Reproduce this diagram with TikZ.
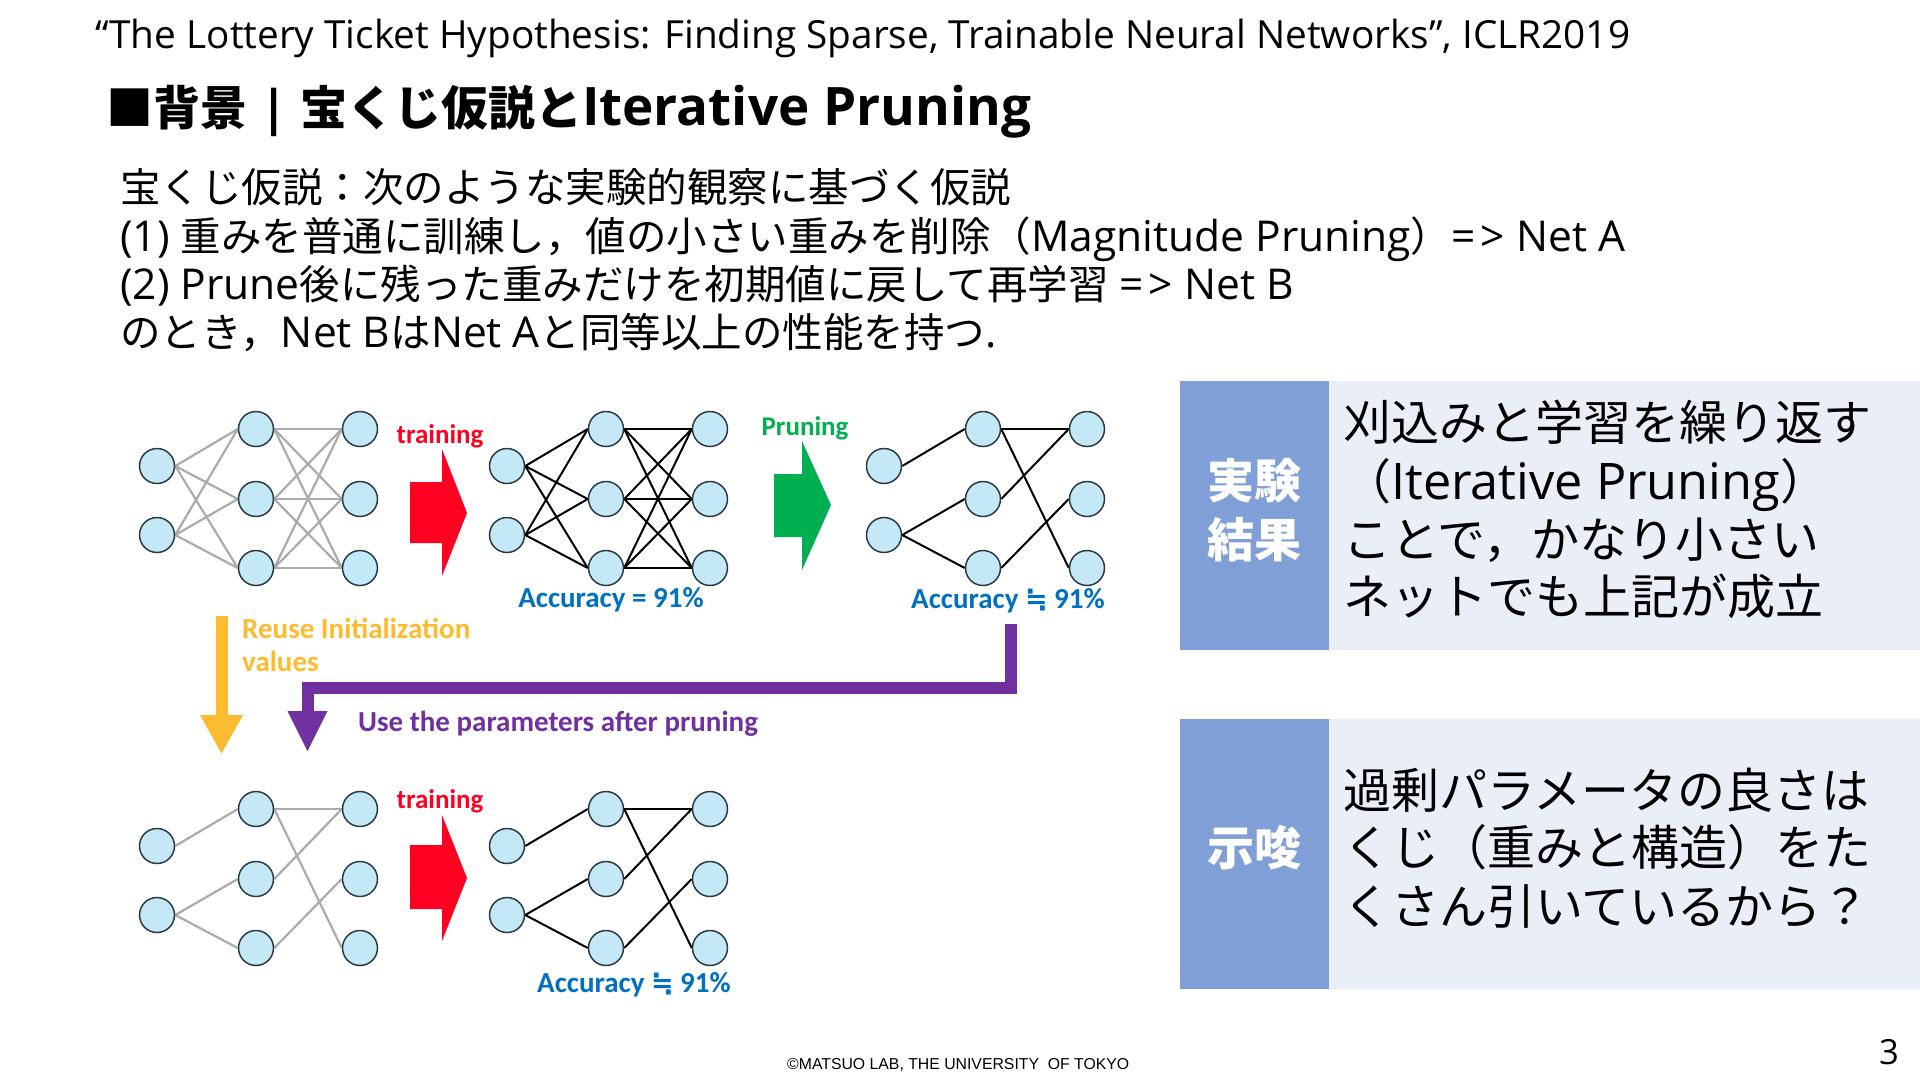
\documentclass[tikz,border=0pt]{standalone}
\usepackage{fontspec}
\setmainfont{Open Sans}[Scale=1.05]
\newfontfamily\jp{Noto Sans CJK JP}
\newfontfamily\calfont{Carlito}
\newfontfamily\footfont{Liberation Sans}
\newfontfamily\symfont{DejaVu Sans}
\newcommand\J[1]{{\jp #1}}
\definecolor{nodefill}{HTML}{C5E8F7}
\definecolor{nodeline}{HTML}{2B3A42}
\definecolor{edgegray}{HTML}{ABABAB}
\definecolor{arrred}{HTML}{FF0020}
\definecolor{arrgreen}{HTML}{00B050}
\definecolor{arryel}{HTML}{FDBB30}
\definecolor{arrpur}{HTML}{7030A0}
\definecolor{accblue}{HTML}{0070C0}
\definecolor{boxdark}{HTML}{7F9FD6}
\definecolor{boxlight}{HTML}{E9EEF7}
\pgfdeclarelayer{background}
\pgfsetlayers{background,main}
\newcommand\mknet[3]{%
  \node[nn] (#1i1) at (#2,#3+37) {};
  \node[nn] (#1i2) at (#2,#3+106) {};
  \node[nn] (#1h1) at (#2+99,#3) {};
  \node[nn] (#1h2) at (#2+99,#3+70) {};
  \node[nn] (#1h3) at (#2+99,#3+139) {};
  \node[nn] (#1o1) at (#2+203,#3) {};
  \node[nn] (#1o2) at (#2+203,#3+70) {};
  \node[nn] (#1o3) at (#2+203,#3+139) {};}
\newcommand\fulledges[2]{%
  \foreach \a in {1,2}{\foreach \b in {1,2,3}{\draw[#2] (#1i\a.east) -- (#1h\b.west);}}
  \foreach \a in {1,2,3}{\foreach \b in {1,2,3}{\draw[#2] (#1h\a.east) -- (#1o\b.west);}}}
\newcommand\sparseedges[2]{%
  \draw[#2] (#1i1.east) -- (#1h1.west);
  \draw[#2] (#1i2.east) -- (#1h2.west);
  \draw[#2] (#1i2.east) -- (#1h3.west);
  \draw[#2] (#1h1.east) -- (#1o1.west);
  \draw[#2] (#1h1.east) -- (#1o3.west);
  \draw[#2] (#1h2.east) -- (#1o1.west);
  \draw[#2] (#1h3.east) -- (#1o2.west);}
\begin{document}
\begin{tikzpicture}[x=1pt,y=-1pt,
  nn/.style={circle,draw=nodeline,fill=nodefill,line width=1.5pt,minimum size=35pt,inner sep=0pt},
  ge/.style={draw=edgegray,line width=2.2pt},
  be/.style={draw=black,line width=2pt},
  lab/.style={inner sep=0pt,font=\calfont\bfseries\fontsize{27}{30}\selectfont},
  labb/.style={inner sep=0pt,font=\calfont\bfseries\fontsize{29}{33}\selectfont},
  body/.style={inner sep=0pt,anchor=base west,font=\fontsize{40.5}{48}\selectfont},
  boxt/.style={inner sep=0pt,anchor=base west,font=\fontsize{48}{58}\selectfont},
  boxl/.style={inner sep=0pt,anchor=base,text=white,font=\jp\bfseries\fontsize{47}{58}\selectfont}]
\useasboundingbox (0,0) rectangle (1920,1080);
\begin{pgfonlayer}{background}
\fill[white] (0,0) rectangle (1920,1080);
\end{pgfonlayer}
% header
\node[inner sep=0pt,anchor=base west,font=\fontsize{36.9}{42}\selectfont] (cite) at (95,48)
  {“The Lottery Ticket Hypothesis: Finding Sparse, Trainable Neural Networks”, ICLR2019};
\node[inner sep=0pt,anchor=base west,font=\bfseries\fontsize{47}{56}\selectfont] (title) at (106,125)
  {\J{■背景} | \J{宝くじ仮説と}{\fontsize{50.5}{56}\selectfont Iterative Pruning}};
% body text
\node[body] (l1) at (120,202) {\J{宝くじ仮説：次のような実験的観察に基づく仮説}};
\node[body] (l2) at (120,251) {(1) \J{重みを普通に訓練し，値の小さい重みを削除（}Magnitude Pruning\J{）}=\kern0.12em> Net A};
\node[body] (l3) at (120,299) {(2) Prune\J{後に残った重みだけを初期値に戻して再学習} =\kern0.12em> Net B};
\node[body] (l4) at (120,347) {\J{のとき，}Net B\J{は}Net A\J{と同等以上の性能を持つ}.};
% right boxes
\fill[boxlight] (1180,381) rectangle (1920,650);
\fill[boxdark] (1180,381) rectangle (1329,650);
\fill[boxlight] (1180,719) rectangle (1920,989);
\fill[boxdark] (1180,719) rectangle (1329,989);
\node[boxl] (k1) at (1254.5,498) {実験};
\node[boxl] (k2) at (1254.5,557) {結果};
\node[boxl] (k3) at (1254.5,865) {示唆};
\node[boxt] (b1) at (1343,440) {\J{刈込みと学習を繰り返す}};
\node[boxt] (b2) at (1343,499) {\J{（}Iterative Pruning\J{）}};
\node[boxt] (b3) at (1343,557) {\J{ことで，かなり小さい}};
\node[boxt] (b4) at (1343,614) {\J{ネットでも上記が成立}};
\node[boxt] (c1) at (1343,808) {\J{過剰パラメータの良さは}};
\node[boxt] (c2) at (1343,865) {\J{くじ（重みと構造）をた}};
\node[boxt] (c3) at (1343,924) {\J{くさん引いているから？}};
% networks
\mknet{A}{157}{429}
\mknet{B}{507}{429}
\mknet{C}{884}{429}
\mknet{D}{157}{809}
\mknet{E}{507}{809}
\begin{pgfonlayer}{background}
\fulledges{A}{ge}
\fulledges{B}{be}
\sparseedges{C}{be}
\sparseedges{D}{ge}
\sparseedges{E}{be}
\end{pgfonlayer}
% big arrows
\fill[arrred] (410,482) -- (442,482) -- (442,449) -- (467,513) -- (442,576) -- (442,543) -- (410,543) -- cycle;
\fill[arrgreen] (774,474) -- (802,474) -- (802,441) -- (831,505) -- (802,570) -- (802,537) -- (774,537) -- cycle;
\fill[arrred] (410,845) -- (442,845) -- (442,815) -- (467,878) -- (442,941) -- (442,909) -- (410,909) -- cycle;
% yellow arrow
\fill[arryel] (215.5,616) rectangle (227.5,716);
\fill[arryel] (200,715) -- (243,715) -- (221.5,753.5) -- cycle;
% purple arrow
\coordinate (pstart) at (1011,624);
\coordinate (pend) at (307.5,712);
\draw[arrpur,line width=12pt,line join=miter] (pstart) |- (307.5,688) -- (pend);
\fill[arrpur] (287.5,711) -- (327.5,711) -- (307.5,751) -- cycle;
% labels
\node[lab,anchor=base,text=arrred] (t1) at (440,443) {training};
\node[lab,anchor=base,text=arrred] (t2) at (440,808) {training};
\node[lab,anchor=base,text=arrgreen] (pr) at (805,435) {Pruning};
\node[labb,anchor=base,text=accblue] (acc1) at (611,607) {Accuracy = 91\%};
\node[labb,anchor=base,text=accblue] (acc2) at (1008,608) {Accuracy {\symfont\bfseries\fontsize{27}{30}\selectfont ≒} 91\%};
\node[labb,anchor=base,text=accblue] (acc3) at (634,992) {Accuracy {\symfont\bfseries\fontsize{27}{30}\selectfont ≒} 91\%};
\node[labb,anchor=base west,text=arryel] (re1) at (242,638) {Reuse Initialization};
\node[labb,anchor=base west,text=arryel] (re2) at (242,671) {values};
\node[labb,anchor=base west,text=arrpur] (use) at (358,731) {Use the parameters after pruning};
% footer
\node[inner sep=0pt,anchor=base west,font=\footfont\fontsize{15.8}{18}\selectfont] (foot) at (787,1069) {©MATSUO LAB, THE UNIVERSITY\ \ OF TOKYO};
\node[inner sep=0pt,anchor=base,font=\fontsize{33}{40}\selectfont] (pg) at (1889,1064) {3};
\end{tikzpicture}
\end{document}
